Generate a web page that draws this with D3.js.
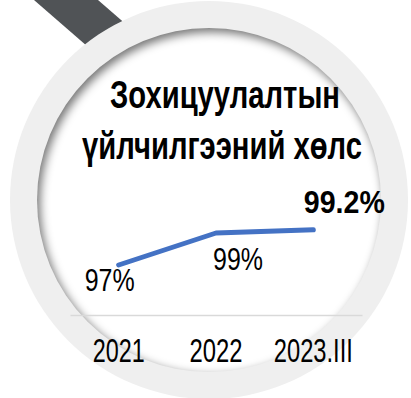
<!DOCTYPE html>
<html>
<head>
<meta charset="utf-8">
<script src="https://cdn.jsdelivr.net/npm/d3@7"></script>
<style>
  body { margin: 0; background: #fff; }
  svg { display: block; }
  text { font-family: "Liberation Sans", Arial, sans-serif; }
</style>
</head>
<body>
<svg id="chart"></svg>
<script>
// chart data
const categories = ['2021', '2022', '2023.III']
const values = [97, 99, 99.2]
const valueLabels = ['97%', '99%', '99.2%']
const titleLines = ['Зохицуулалтын', 'үйлчилгээний хөлс']

// condensed look: squeeze the text to the widths seen in the picture
const titleWidths = [230, 280]
const valueWidths = [50, 50, 81]
const categoryWidths = [52, 53, 79]

const width = 411
const height = 398
const cx = 209, cy = 200
const outerR = 199, innerR = 172

const svg = d3.select('#chart')
  .attr('width', width)
  .attr('height', height)

const defs = svg.append('defs')
defs.append('clipPath').attr('id', 'inner')
  .append('circle').attr('cx', cx).attr('cy', cy).attr('r', innerR)
defs.append('filter').attr('id', 'blur')
  .attr('x', '-20%').attr('y', '-20%').attr('width', '140%').attr('height', '140%')
  .append('feGaussianBlur').attr('stdDeviation', 5)

// handle of the magnifier
svg.append('rect')
  .attr('x', -40).attr('y', -21)
  .attr('width', 200).attr('height', 42)
  .attr('fill', '#505356')
  .attr('transform', 'translate(66,0) rotate(41)')

// ring
svg.append('circle')
  .attr('cx', cx).attr('cy', cy).attr('r', outerR)
  .attr('fill', '#efefef')
svg.append('circle')
  .attr('cx', cx).attr('cy', cy).attr('r', innerR)
  .attr('fill', '#fff')

// inner shadow
svg.append('g')
  .attr('clip-path', 'url(#inner)')
  .append('circle')
  .attr('cx', cx + 3).attr('cy', cy + 4).attr('r', innerR + 20)
  .attr('fill', 'none')
  .attr('stroke', '#000')
  .attr('stroke-opacity', 0.55)
  .attr('stroke-width', 40)
  .attr('filter', 'url(#blur)')

// title
svg.append('g').selectAll('text')
  .data(titleLines)
  .enter().append('text')
  .attr('x', (d, i) => i === 0 ? 225 : 222)
  .attr('y', (d, i) => 108 + i * 51)
  .attr('text-anchor', 'middle')
  .attr('font-size', 38)
  .attr('font-weight', 'bold')
  .attr('fill', '#000')
  .attr('textLength', (d, i) => titleWidths[i])
  .attr('lengthAdjust', 'spacingAndGlyphs')
  .text(d => d)

const x = d3.scaleBand()
  .domain(categories)
  .range([70, 362])
const y = d3.scaleLinear()
  .domain([93.875, 100])
  .range([315, 217])

// axis line + labels
const xAxis = svg.append('g')
  .attr('transform', 'translate(0,315)')
  .call(d3.axisBottom(x).tickSize(0).tickPadding(24))
xAxis.select('.domain').attr('stroke', '#d9d9d9').attr('stroke-width', 1.5)
xAxis.selectAll('text')
  .attr('font-size', 33)
  .attr('fill', '#000')
  .attr('textLength', (d, i) => categoryWidths[i])
  .attr('lengthAdjust', 'spacingAndGlyphs')
  .style('font-family', '"Liberation Sans", Arial, sans-serif')

const line = d3.line()
  .x((d, i) => x(categories[i]) + x.bandwidth() / 2)
  .y(d => y(d))

svg.append('path')
  .datum(values)
  .attr('d', line)
  .attr('fill', 'none')
  .attr('stroke', '#4472c4')
  .attr('stroke-width', 5)
  .attr('stroke-linecap', 'round')
  .attr('stroke-linejoin', 'round')

// data labels
const labelOffsets = [[-9, 26], [22, 37], [31, -17]]
svg.append('g').selectAll('text')
  .data(values)
  .enter().append('text')
  .attr('x', (d, i) => x(categories[i]) + x.bandwidth() / 2 + labelOffsets[i][0])
  .attr('y', (d, i) => y(d) + labelOffsets[i][1])
  .attr('text-anchor', 'middle')
  .attr('font-size', (d, i) => i === 2 ? 32 : 32)
  .attr('font-weight', (d, i) => i === 2 ? 'bold' : 'normal')
  .attr('fill', '#000')
  .attr('textLength', (d, i) => valueWidths[i])
  .attr('lengthAdjust', 'spacingAndGlyphs')
  .text((d, i) => valueLabels[i])
</script>
</body>
</html>
